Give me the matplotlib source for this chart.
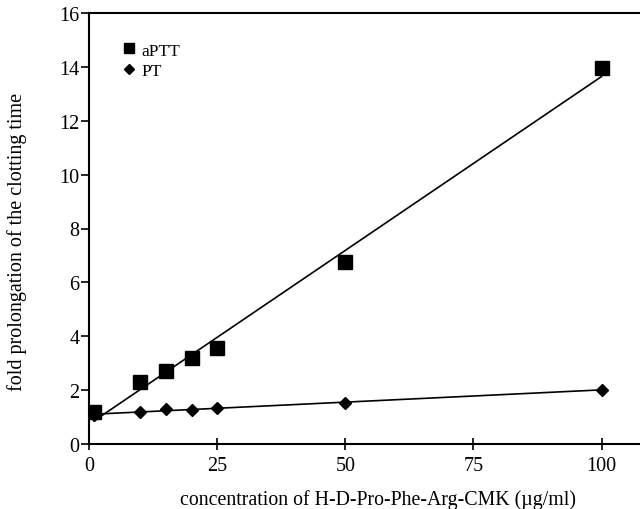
import numpy as np
import matplotlib
matplotlib.use("Agg")
import matplotlib.pyplot as plt
from matplotlib.lines import Line2D

plt.rcParams['font.family'] = ['Liberation Serif', 'DejaVu Serif']

conc = [1, 10, 15, 20, 25, 50, 100]
aptt = [1.2, 2.3, 2.72, 3.18, 3.55, 6.75, 13.95]
pt = [1.08, 1.19, 1.3, 1.26, 1.33, 1.52, 2.02]
xticks = [0, 25, 50, 75, 100]
yticks = [0, 2, 4, 6, 8, 10, 12, 14, 16]

fig = plt.figure(figsize=(6.4, 5.1), dpi=100)
ax = fig.add_axes([89/640, 65/510, 1 - 89/640, (445-14)/510])

x = np.array(conc, dtype=float)
for ys in (aptt, pt):
    k, b = np.polyfit(x, np.array(ys), 1)
    xx = np.array([x.min(), x.max()])
    ax.plot(xx, k*xx + b, color='black', lw=1.2, zorder=2)

ax.plot(conc, aptt, ls='none', marker='s', ms=9.5, color='black', zorder=3)
ax.plot(conc, pt, ls='none', marker='D', ms=6.5, color='black', zorder=3)

ax.set_xlim(0, 107.5)
ax.set_ylim(0, 16)
ax.set_xticks(xticks)
ax.set_yticks(yticks)
ax.spines['right'].set_visible(False)
for s in ax.spines.values():
    s.set_linewidth(1.5)
ax.tick_params(axis='x', direction='inout', length=9, width=1.2, labelsize=14.5, pad=4)
ax.tick_params(axis='y', direction='out', length=6, width=1.2, labelsize=14.5, pad=1)

ax.set_xlabel('concentration of H-D-Pro-Phe-Arg-CMK (\u00b5g/ml)', fontsize=14.3)
ax.xaxis.set_label_coords(0.525, -0.105)
ax.set_ylabel('fold prolongation of the clotting time', fontsize=14.5)
ax.yaxis.set_label_coords(-0.112, 0.47)

handles = [Line2D([], [], ls='none', marker='s', ms=7, color='black'),
           Line2D([], [], ls='none', marker='D', ms=5.5, color='black')]
ax.legend(handles, ['aPTT', 'PT'], loc='upper left', bbox_to_anchor=(0.026, 0.968),
          frameon=False, fontsize=12.5, handletextpad=0.1, handlelength=1.2,
          labelspacing=0.25)

fig.savefig('out.png', dpi=100)
